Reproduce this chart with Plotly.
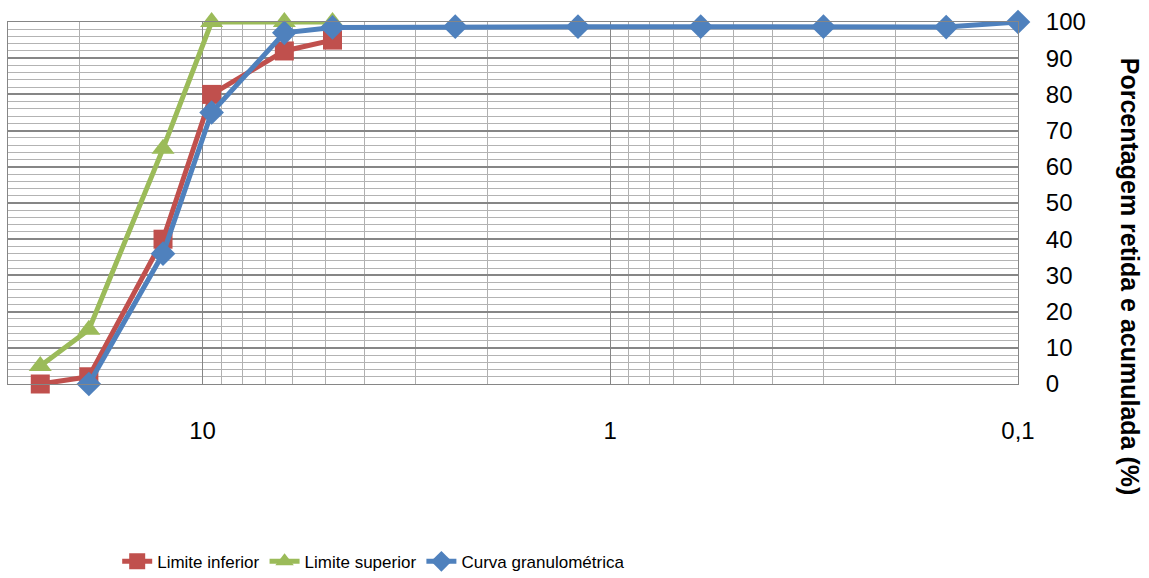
import plotly.graph_objects as go

# Sieve openings (mm)
peneiras_limites = [25, 19, 12.5, 9.5, 6.3, 4.8]
peneiras_curva = [19, 12.5, 9.5, 6.3, 4.8, 2.4, 1.2, 0.6, 0.3, 0.15, 0.1]

# Cumulative retained percentages
limite_inferior = [0, 2, 40, 80, 92, 95]
limite_superior = [5, 15, 65, 100, 100, 100]
curva_granulometrica = [0, 36, 75, 97, 98.5, 98.7, 98.7, 98.7, 98.7, 98.6, 100]

# Axis ticks
x_ticks = [10, 1, 0.1]
x_tick_labels = ["10", "1", "0,1"]
y_ticks = list(range(0, 101, 10))

RED = "#C0504D"
GREEN = "#9BBB59"
BLUE = "#4F81BD"

fig = go.Figure()
fig.add_trace(go.Scatter(
    x=peneiras_limites, y=limite_inferior, name="Limite inferior",
    mode="lines+markers", line=dict(color=RED, width=5), cliponaxis=False,
    marker=dict(symbol="square", size=19, color=RED),
))
fig.add_trace(go.Scatter(
    x=peneiras_limites, y=limite_superior, name="Limite superior",
    mode="lines+markers", line=dict(color=GREEN, width=5), cliponaxis=False,
    marker=dict(symbol="triangle-up", size=20, color=GREEN),
))
fig.add_trace(go.Scatter(
    x=peneiras_curva, y=curva_granulometrica, name="Curva granulométrica",
    mode="lines+markers", line=dict(color=BLUE, width=5), cliponaxis=False,
    marker=dict(symbol="diamond", size=19, color=BLUE),
))

fig.update_layout(
    width=1149, height=578,
    margin=dict(l=8, r=131, t=22, b=194, autoexpand=False),
    paper_bgcolor="white", plot_bgcolor="white",
    font=dict(family="Liberation Sans, Arial, sans-serif", color="black"),
    showlegend=True,
    legend=dict(
        orientation="h", xref="container", yref="container",
        x=0.102, xanchor="left", y=0.028, yanchor="middle",
        font=dict(size=17, color="black"),
        itemwidth=30,
    ),
    xaxis=dict(
        type="log", autorange=False, range=[1.4771, -1],
        tickvals=x_ticks, ticktext=x_tick_labels,
        tickfont=dict(size=24, color="black"),
        ticks="", ticklabelstandoff=25,
        showgrid=True, gridcolor="#868686", gridwidth=1,
        minor=dict(dtick="D1", showgrid=True, gridcolor="#b0b0b0", gridwidth=1),
        showline=True, linecolor="#868686", linewidth=1, mirror=True,
        zeroline=False,
    ),
    yaxis=dict(
        side="right", range=[0, 100], autorange=False,
        tickvals=y_ticks, tickfont=dict(size=24, color="black"),
        ticks="", ticklabelstandoff=22,
        showgrid=True, gridcolor="#868686", gridwidth=2,
        minor=dict(dtick=2, showgrid=True, gridcolor="#b3b3b3", gridwidth=1),
        showline=True, linecolor="#868686", linewidth=1, mirror=True,
        zeroline=False,
    ),
    annotations=[dict(
        text="<b>Porcentagem retida e acumulada (%)</b>",
        xref="paper", yref="paper", x=1.111, y=0.296,
        xanchor="center", yanchor="middle", textangle=90, showarrow=False,
        font=dict(family="Liberation Sans, Arial, sans-serif", size=25, color="black"),
    )],
)

fig.write_html("out.html")
